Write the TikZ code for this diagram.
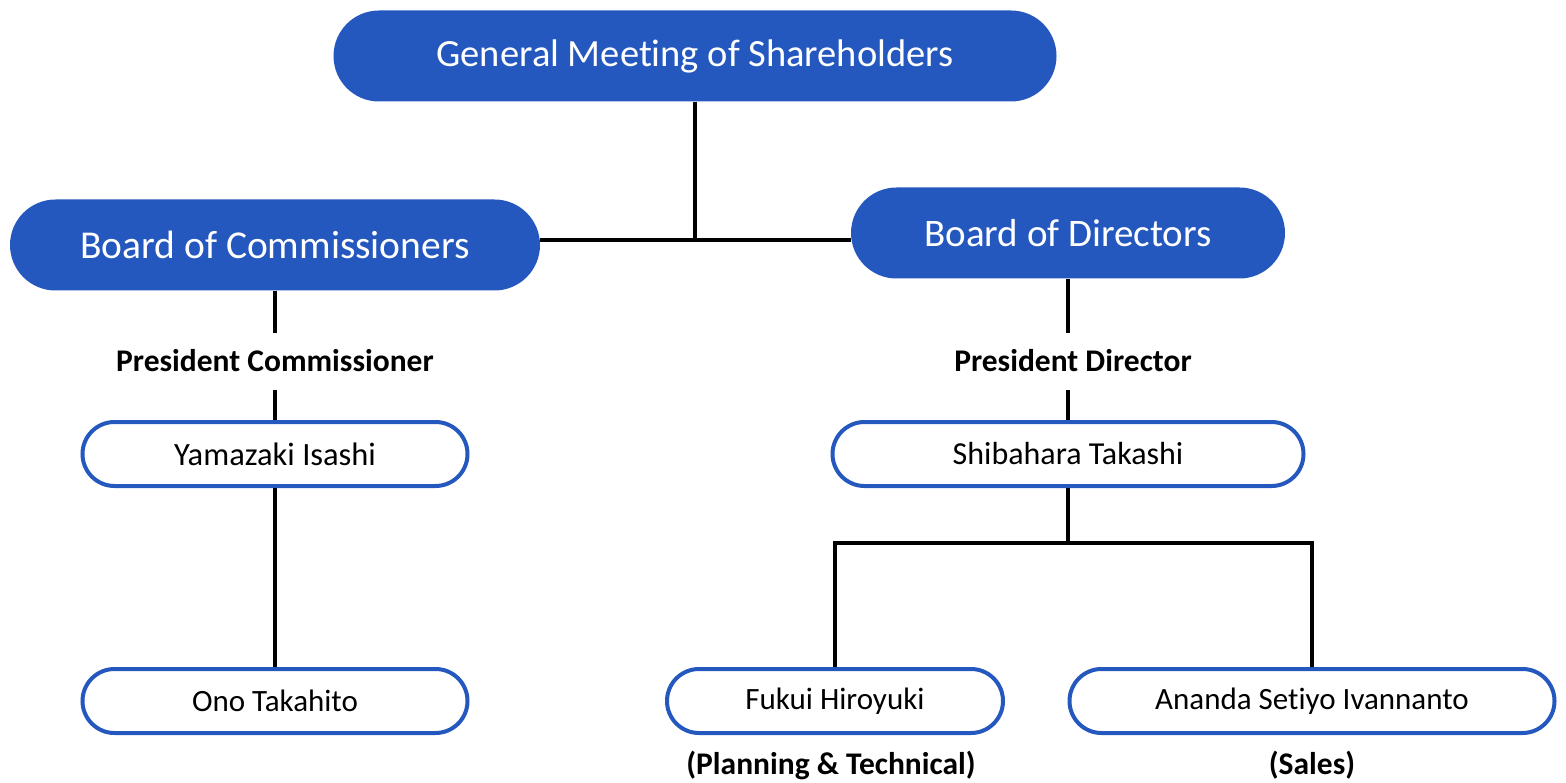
\documentclass[tikz,border=0pt]{standalone}
\usepackage{fontspec}
\setmainfont{Carlito}[Ligatures=NoCommon]
\usetikzlibrary{shapes.misc}
\definecolor{orgblue}{HTML}{2458BE}
\begin{document}
\begin{tikzpicture}[x=1pt,y=-1pt,
  bignode/.style={rounded rectangle, fill=orgblue, text=white, minimum height=91pt, inner sep=0pt},
  namenode/.style={rounded rectangle, draw=orgblue, line width=4pt, fill=white, minimum height=64pt, inner sep=0pt, font=\fontsize{32}{36}\selectfont},
  lbl/.style={font=\bfseries\fontsize{31.5}{36}\selectfont, inner sep=0pt},
  conn/.style={line width=4.5pt, black}]
\useasboundingbox (0,0) rectangle (1566,783);
\node[bignode, minimum width=723pt, font=\fontsize{38.5}{42}\selectfont] (gm) at (695,56) {General Meeting of Shareholders};
\node[bignode, minimum width=530pt, font=\fontsize{39.5}{42}\selectfont] (boc) at (275,245) {Board of Commissioners};
\node[bignode, minimum width=434pt, font=\fontsize{39}{42}\selectfont] (bod) at (1068,233) {Board of Directors};
\node[namenode, minimum width=385pt, font=\fontsize{32.5}{36}\selectfont] (yam) at (275,454) {Yamazaki Isashi};
\node[namenode, minimum width=385pt, font=\fontsize{31}{36}\selectfont] (ono) at (275,701) {Ono Takahito};
\node[namenode, minimum width=471pt] (shi) at (1068,454) {Shibahara Takashi};
\node[namenode, minimum width=336pt, font=\fontsize{31}{36}\selectfont] (fuk) at (835,701) {Fukui Hiroyuki};
\node[namenode, minimum width=485pt, font=\fontsize{31}{36}\selectfont] (ana) at (1312,701) {Ananda Setiyo Ivannanto};
\node[lbl] (pc) at (275,361) {President Commissioner};
\node[lbl] (pd) at (1073,361) {President Director};
\node[lbl] (pt) at (831,765) {(Planning \& Technical)};
\node[lbl] (sa) at (1312,765) {(Sales)};
\coordinate (j) at (695,240);
\coordinate (b1) at (1068,543);
\coordinate (pcA) at (275,333);
\coordinate (pcB) at (275,390);
\coordinate (pdA) at (1068,333);
\coordinate (pdB) at (1068,390);
\draw[conn] (gm.south) -- (j);
\draw[conn] (boc.east |- j) -- (bod.west |- j);
\draw[conn] (boc.south) -- (pcA);
\draw[conn] (pcB) -- (yam.north);
\draw[conn] (yam.south) -- (ono.north);
\draw[conn] (bod.south) -- (pdA);
\draw[conn] (pdB) -- (shi.north);
\draw[conn] (shi.south) -- (b1);
\draw[conn] (fuk.north) -- (fuk.north |- b1) -- (ana.north |- b1) -- (ana.north);
\end{tikzpicture}
\end{document}
